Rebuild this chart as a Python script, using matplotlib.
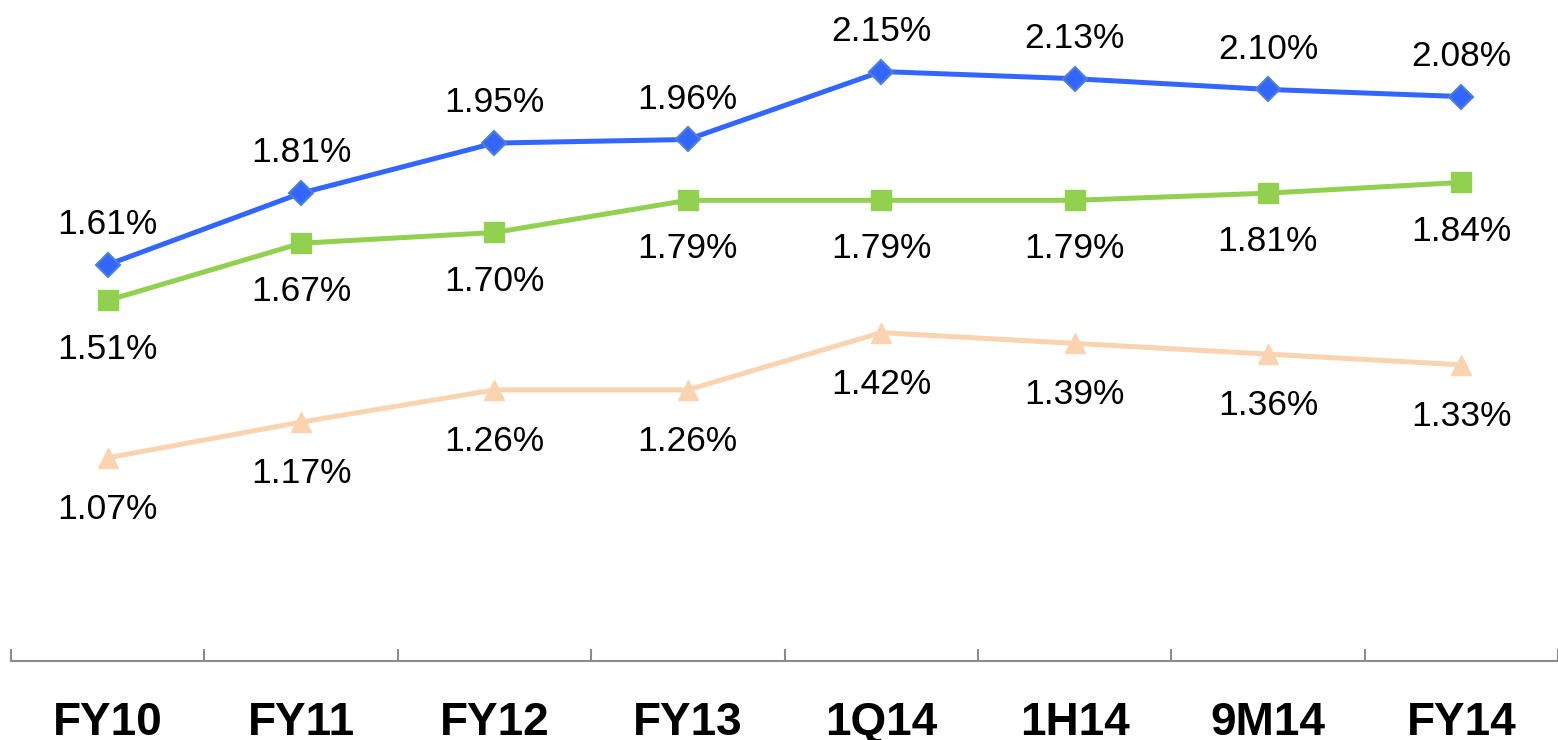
import matplotlib
matplotlib.use("Agg")
import matplotlib.pyplot as plt

# data
periods = ['FY10', 'FY11', 'FY12', 'FY13', '1Q14', '1H14', '9M14', 'FY14']
blue_vals = [1.61, 1.81, 1.95, 1.96, 2.15, 2.13, 2.10, 2.08]
green_vals = [1.51, 1.67, 1.70, 1.79, 1.79, 1.79, 1.81, 1.84]
peach_vals = [1.07, 1.17, 1.26, 1.26, 1.42, 1.39, 1.36, 1.33]

plt.rcParams['font.family'] = ['Liberation Sans', 'DejaVu Sans']

fig = plt.figure(figsize=(15.58, 7.40), dpi=100)
ax = fig.add_axes([11 / 1558, 1 - 661 / 740, 1 - 11 / 1558, 661 / 740])

x = list(range(len(periods)))

ax.plot(x, blue_vals, color='#3366FF', lw=3.6, marker='D', ms=12,
        mfc='#3366FF', mec='#4F7FD0', mew=1.5, zorder=3)
ax.plot(x, green_vals, color='#92D050', lw=3.6, marker='s', ms=15,
        mfc='#92D050', mec='#92D050', zorder=3)
ax.plot(x, peach_vals, color='#FAD3B0', lw=3.6, marker='^', ms=14,
        mfc='#FAD3B0', mec='#FAD3B0', zorder=3)

# value labels
for i in x:
    ax.annotate(f'{blue_vals[i]:.2f}%', (i, blue_vals[i]), xytext=(0, 29),
                textcoords='offset points', ha='center', va='center', fontsize=25.5)
    ax.annotate(f'{green_vals[i]:.2f}%', (i, green_vals[i]), xytext=(0, -35),
                textcoords='offset points', ha='center', va='center', fontsize=25.5)
    ax.annotate(f'{peach_vals[i]:.2f}%', (i, peach_vals[i]), xytext=(0, -37),
                textcoords='offset points', ha='center', va='center', fontsize=25.5)

ax.set_xlim(-0.5, len(periods) - 0.5)
ax.set_ylim(0.502, 2.35)

# category labels, separator ticks on the boundaries
ax.set_xticks(x)
ax.set_xticklabels(periods, fontsize=33, fontweight='bold')
ax.tick_params(axis='x', which='major', length=0, pad=29)
ax.set_xticks([i - 0.5 for i in range(len(periods) + 1)], minor=True)
ax.tick_params(axis='x', which='minor', direction='in', length=9, width=1.5, color='#8C8C8C')

ax.set_yticks([])
for side in ['left', 'right', 'top']:
    ax.spines[side].set_visible(False)
ax.spines['bottom'].set_color('#8C8C8C')
ax.spines['bottom'].set_linewidth(1.5)

fig.savefig('out.png', dpi=100)
